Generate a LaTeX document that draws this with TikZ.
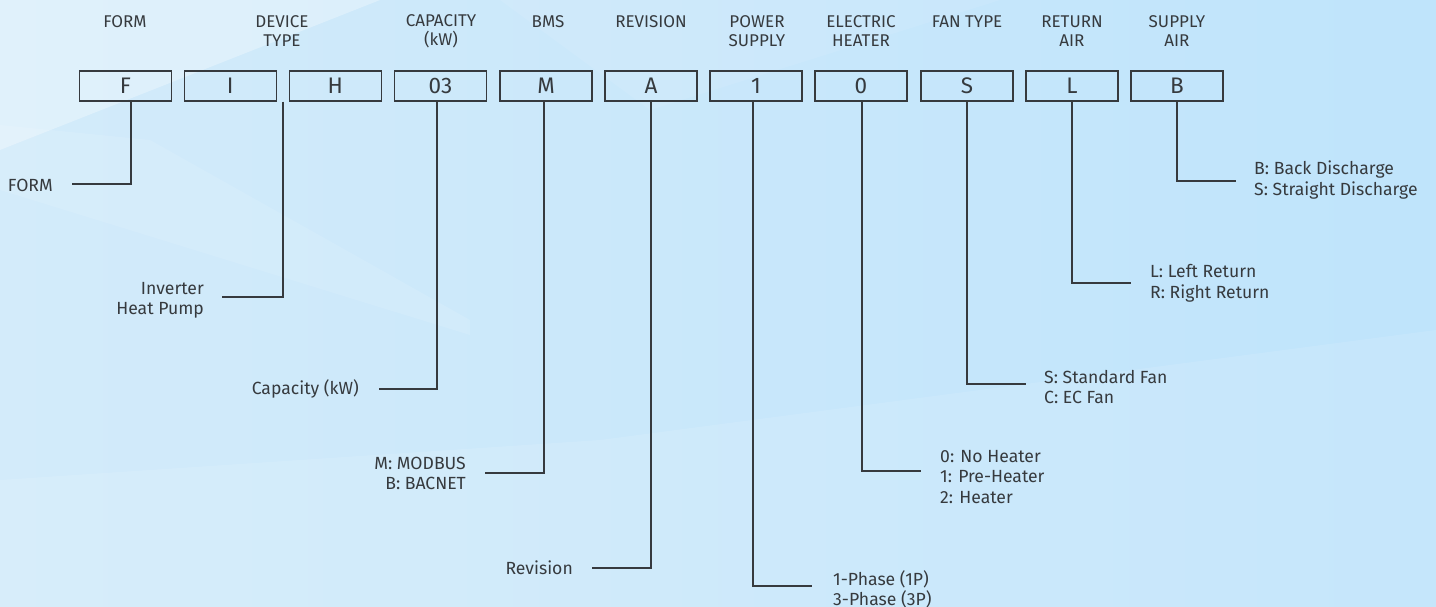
\documentclass[tikz,border=0pt]{standalone}
\usepackage{fontspec}
\setmainfont{Fira Sans}
\usetikzlibrary{calc}
\definecolor{ink}{HTML}{363A3E}
\definecolor{bgL}{HTML}{D3EBFA}
\definecolor{bgR}{HTML}{BFE4FB}
\tikzset{
  codebox/.style={draw=ink, line width=1.3pt, minimum width=92pt, minimum height=30pt, inner sep=0pt, font=\fontsize{22.5}{22.5}\selectfont, text=ink},
  header/.style={align=center, font=\fontsize{17}{19}\selectfont, text=ink, inner sep=0pt},
  desc/.style={font=\fontsize{17.6}{20.5}\selectfont, text=ink, inner sep=0pt},
  lead/.style={draw=ink, line width=1.4pt},
}
\begin{document}
\begin{tikzpicture}[x=1pt,y=-1pt]
\useasboundingbox (0,0) rectangle (1436,607);
% background
\shade[left color=bgL, right color=bgR] (0,0) rectangle (1436,607);
\fill[white, opacity=0.30] (0,0) -- (380,0) -- (0,150) -- cycle;
\fill[white, opacity=0.10] (0,125) -- (150,140) -- (470,320) -- (470,335) -- (0,190) -- cycle;
\fill[white, opacity=0.10] (0,480) -- (600,440) -- (1436,330) -- (1436,607) -- (0,607) -- cycle;
\fill[white, opacity=0.08] (500,0) -- (1000,0) -- (650,110) -- cycle;
% headers
\node[header] (hF) at (125,22) {FORM};
\node[header] (hD) at (282,31.5) {DEVICE\\TYPE};
\node[header] (hC) at (441,31.5) {CAPACITY\\(kW)};
\node[header] (hB) at (548,22) {BMS};
\node[header] (hR) at (651,22) {REVISION};
\node[header] (hP) at (757,31.5) {POWER\\SUPPLY};
\node[header] (hE) at (861,31.5) {ELECTRIC\\HEATER};
\node[header] (hT) at (967,22) {FAN TYPE};
\node[header] (hA) at (1072,31.5) {RETURN\\AIR};
\node[header] (hS) at (1177,31.5) {SUPPLY\\AIR};
% boxes
\node[codebox] (bF) at (125.3,86) {F};
\node[codebox] (bI) at (230.3,86) {I};
\node[codebox] (bH) at (335.3,86) {H};
\node[codebox] (b03) at (440.5,86) {03};
\node[codebox] (bM) at (546,86) {M};
\node[codebox] (bA) at (651,86) {A};
\node[codebox] (b1) at (756,86) {1};
\node[codebox] (b0) at (861,86) {0};
\node[codebox] (bS) at (967,86) {S};
\node[codebox] (bL) at (1072,86) {L};
\node[codebox] (bB) at (1177,86) {B};
% leader end points
\coordinate (eF) at (72,184);
\coordinate (eD) at (222,297);
\coordinate (eC) at (379,389);
\coordinate (eM) at (485,473);
\coordinate (eA) at (592,568);
\coordinate (e1) at (812,586);
\coordinate (e0) at (921,471);
\coordinate (eS) at (1026,384);
\coordinate (eL) at (1131,283);
\coordinate (eB) at (1236,181);
% descriptions
\node[desc, anchor=east] (dF) at (53,185) {FORM};
\node[desc, anchor=east, align=right] (dD) at (204,300.5) {Inverter\\Heat Pump};
\node[desc, anchor=east] (dC) at (359,389) {Capacity (kW)};
\node[desc, anchor=east, align=right] (dM) at (466,473.5) {M: MODBUS\\B: BACNET};
\node[desc, anchor=east] (dA) at (573,568) {Revision};
\node[desc, anchor=west, align=left] (d1) at (833,589.5) {1-Phase (1P)\\3-Phase (3P)};
\node[desc, anchor=west, align=left] (d0) at (940,477) {0: No Heater\\1: Pre-Heater\\2: Heater};
\node[desc, anchor=west, align=left] (dS) at (1044,387) {S: Standard Fan\\C: EC Fan};
\node[desc, anchor=west, align=left] (dL) at (1150,283.5) {L: Left Return\\R: Right Return};
\node[desc, anchor=west, align=left] (dB) at (1254,180) {B: Back Discharge\\S: Straight Discharge};
% leaders
\draw[lead] ([xshift=5.5pt]bF.south) |- (eF);
\draw[lead] ($(bI.south east)!0.5!(bH.south west)$) |- (eD);
\draw[lead] ([xshift=-3.5pt]b03.south) |- (eC);
\draw[lead] ([xshift=-2pt]bM.south) |- (eM);
\draw[lead] (bA.south) |- (eA);
\draw[lead] ([xshift=-3pt]b1.south) |- (e1);
\draw[lead] ([xshift=1pt]b0.south) |- (e0);
\draw[lead] (bS.south) |- (eS);
\draw[lead] (bL.south) |- (eL);
\draw[lead] (bB.south) |- (eB);
\end{tikzpicture}
\end{document}
